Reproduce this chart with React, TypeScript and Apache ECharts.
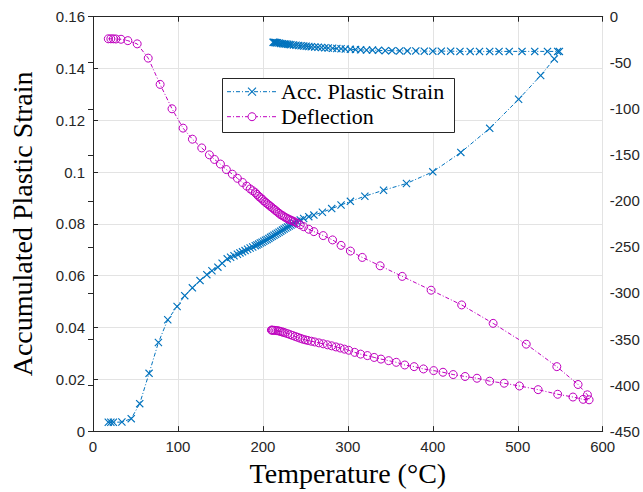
import React, { useEffect, useRef } from "react";
import * as echarts from "echarts";

// Accumulated plastic strain during heating (temperature °C, strain)
const strainHeatT = [
  18, 21, 24, 34, 45, 55, 66, 77, 88, 99, 108, 117, 126, 134, 140, 147, 152, 158,
  162, 166, 170, 173, 176, 179, 182, 185, 188, 191, 193, 195, 197, 199, 201, 203,
  205, 207, 209, 211, 213, 215, 217, 219, 221, 223, 225, 227, 229, 231, 233, 235,
  237, 240, 244, 248, 254, 260, 270, 281, 292, 303, 320, 342, 369, 400, 433, 467,
  501, 527, 543, 549,
];
const strainHeat = [
  0.0034, 0.0034, 0.0034, 0.0035, 0.0048, 0.0106, 0.0223, 0.0342, 0.043, 0.0481,
  0.0523, 0.0553, 0.0581, 0.0604, 0.0619, 0.0633, 0.0648, 0.0665, 0.0671, 0.0677,
  0.0683, 0.0688, 0.0692, 0.0697, 0.0702, 0.0707, 0.0711, 0.0716, 0.0719, 0.0722,
  0.0726, 0.0729, 0.0733, 0.0737, 0.074, 0.0744, 0.0748, 0.0752, 0.0756, 0.076,
  0.0764, 0.0768, 0.0772, 0.0776, 0.078, 0.0784, 0.0788, 0.0792, 0.0796, 0.08,
  0.0804, 0.081, 0.0815, 0.0821, 0.0828, 0.0834, 0.0845, 0.0859, 0.0873, 0.0887,
  0.0907, 0.093, 0.0956, 0.1001, 0.1076, 0.1169, 0.1281, 0.1373, 0.1437, 0.1466,
];

// Accumulated plastic strain during cooling
const strainCoolT = [
  547, 535, 520, 505, 490, 478, 467, 455, 444, 432, 421, 410, 400, 390, 380, 370,
  361, 352, 344, 336, 329, 322, 315, 309, 303, 297, 292, 287, 282, 277, 273, 269,
  265, 261, 257, 254, 251, 248, 245, 242, 239, 236, 233, 231, 229, 227, 225, 223,
  221, 219, 217, 216, 215, 214, 213, 212,
];
const strainCool = [
  0.1466, 0.1466, 0.1466, 0.1466, 0.1466, 0.1466, 0.1466, 0.1466, 0.1466, 0.1466,
  0.1467, 0.1467, 0.1467, 0.1467, 0.1468, 0.1468, 0.1468, 0.1469, 0.1469, 0.147,
  0.1471, 0.1471, 0.1472, 0.1473, 0.1474, 0.1475, 0.1476, 0.1477, 0.1478, 0.1479,
  0.148, 0.1481, 0.1482, 0.1483, 0.1484, 0.1485, 0.1486, 0.1487, 0.1488, 0.1489,
  0.149, 0.1491, 0.1492, 0.1493, 0.1494, 0.1495, 0.1495, 0.1496, 0.1497, 0.1498,
  0.1499, 0.1499, 0.15, 0.15, 0.1501, 0.1501,
];

// Deflection during heating (temperature °C, deflection)
const deflHeatT = [
  18, 21, 24, 27, 33, 41, 52, 65, 79, 93, 106, 117, 128, 137, 143, 150, 157, 164,
  170, 176, 181, 185, 188, 191, 193, 195, 197, 199, 201, 203, 205, 207, 209, 211,
  213, 215, 217, 219, 221, 223, 225, 227, 229, 231, 233, 235, 237, 240, 244, 248,
  254, 260, 271, 282, 292, 303, 317, 338, 364, 398, 434, 471, 510, 546, 571, 582,
  584,
];
const deflHeat = [
  -24, -24, -24, -24.2, -24.5, -26, -29.5, -45, -73.5, -100, -121, -133, -142.5,
  -150, -155, -160, -166, -171, -175.5, -180, -184, -187, -189, -191, -193, -195,
  -196.5, -198, -200, -201.5, -203, -204.5, -206, -207.5, -209, -210.5, -212,
  -213.5, -215, -216, -217.2, -218.3, -219.3, -220.2, -221, -221.8, -222.6, -224,
  -226, -228, -230.8, -233.4, -237.7, -242.4, -248.3, -254.5, -261.4, -270.5, -282,
  -297, -313, -333, -355.6, -380, -399.4, -410.6, -416,
];

// Deflection during cooling
const deflCoolT = [
  577, 565, 547, 524, 502, 484, 467, 452, 438, 424, 412, 401, 389, 378, 367, 357,
  348, 339, 331, 323, 315, 308, 301, 296, 291, 286, 281, 276, 271, 266, 261, 257,
  253, 250, 247, 244, 241, 238, 235, 232, 229, 226, 224, 222, 220, 218, 216, 214,
  212, 211, 210,
];
const deflCool = [
  -415.5, -413, -410, -405, -401, -398, -395.8, -392.6, -390.7, -388.6, -386.1,
  -384.3, -382.5, -380, -378.2, -375.3, -373.5, -371.8, -370, -368, -366.4, -364.5,
  -362.2, -361, -359.8, -358.6, -357.4, -356.3, -355.2, -354.2, -353.2, -352.4,
  -351.6, -350.9, -350.2, -349.2, -348.2, -347.2, -346.2, -345.2, -344.2, -343.3,
  -342.7, -342.1, -341.6, -341.1, -340.8, -340.6, -340.5, -340.4, -340.3,
];

const seriesNames = ["Acc. Plastic Strain", "Deflection"];

const BLUE = "#0072bd";
const MAGENTA = "#bf00bf";
const AXIS = "#262626";
const GRID = "#e3e3e3";
const SERIF = "Liberation Serif";
const SANS = "Liberation Sans";
const DASH_DOT = [4, 2, 1, 2];
const CROSS = "path://M0,1L1,0L5,4L9,0L10,1L6,5L10,9L9,10L5,6L1,10L0,9L4,5Z";
const LEGEND_Z = 100;

const pairs = (xs: number[], ys: number[]) => xs.map((x, i) => [x, ys[i]]);

// Boxed legend drawn with graphic elements: dash-dot sample, marker, label
function legendGraphic() {
  const left = 222.5;
  const top = 78.5;
  const rowY = [91.7, 116.7];
  const lineX0 = 227;
  const lineX1 = 277;
  const mx = 252;
  const colors = [BLUE, MAGENTA];
  const els: any[] = [
    {
      type: "rect",
      z: LEGEND_Z,
      shape: { x: left, y: top, width: 232, height: 54 },
      style: { fill: "#ffffff", stroke: AXIS, lineWidth: 1 },
    },
  ];
  rowY.forEach((y, i) => {
    els.push({
      type: "line",
      z: LEGEND_Z + 1,
      shape: { x1: lineX0, y1: y, x2: lineX1, y2: y },
      style: { stroke: colors[i], lineWidth: 1, lineDash: DASH_DOT },
    });
    if (i === 0) {
      els.push(
        {
          type: "line",
          z: LEGEND_Z + 2,
          shape: { x1: mx - 4, y1: y - 4, x2: mx + 4, y2: y + 4 },
          style: { stroke: BLUE, lineWidth: 1.1 },
        },
        {
          type: "line",
          z: LEGEND_Z + 2,
          shape: { x1: mx - 4, y1: y + 4, x2: mx + 4, y2: y - 4 },
          style: { stroke: BLUE, lineWidth: 1.1 },
        }
      );
    } else {
      els.push({
        type: "circle",
        z: LEGEND_Z + 2,
        shape: { cx: mx, cy: y, r: 4 },
        style: { fill: "#ffffff", stroke: MAGENTA, lineWidth: 1 },
      });
    }
    els.push({
      type: "text",
      z: LEGEND_Z + 2,
      x: 281,
      y,
      style: {
        text: seriesNames[i],
        fill: "#000000",
        font: `22px ${SERIF}`,
        verticalAlign: "middle",
        align: "left",
      },
    });
  });
  return els;
}

export default function App() {
  const ref = useRef<HTMLDivElement>(null);

  useEffect(() => {
    if (!ref.current) return;
    const chart = echarts.init(ref.current, undefined, { renderer: "svg" });
    const tickLabel = { color: AXIS, fontFamily: SANS, fontSize: 15 };
    const tick = { show: true, inside: true, length: 5, lineStyle: { color: AXIS } };
    const line = { show: true, lineStyle: { color: AXIS, width: 1 } };
    chart.setOption({
      animation: false,
      backgroundColor: "#ffffff",
      grid: { left: 80.7, right: 40.3, top: 16.7, bottom: 57.7 },
      graphic: { elements: legendGraphic() },
      xAxis: [
        {
          type: "value",
          min: 0,
          max: 600,
          interval: 100,
          position: "bottom",
          name: "Temperature (°C)",
          nameLocation: "middle",
          nameGap: 26,
          nameTextStyle: { color: "#000000", fontFamily: SERIF, fontSize: 28 },
          axisLine: line,
          axisTick: tick,
          axisLabel: { ...tickLabel, margin: 8 },
          splitLine: { show: true, lineStyle: { color: GRID, width: 1 } },
        },
        {
          type: "value",
          min: 0,
          max: 600,
          interval: 100,
          position: "top",
          axisLine: line,
          axisTick: tick,
          axisLabel: { show: false },
          splitLine: { show: false },
        },
      ],
      yAxis: [
        {
          type: "value",
          min: 0,
          max: 0.16,
          interval: 0.02,
          position: "left",
          name: "Accumulated Plastic Strain",
          nameLocation: "middle",
          nameGap: 57,
          nameTextStyle: { color: "#000000", fontFamily: SERIF, fontSize: 28 },
          axisLine: line,
          axisTick: tick,
          axisLabel: { ...tickLabel, margin: 8 },
          splitLine: { show: true, lineStyle: { color: GRID, width: 1 } },
        },
        {
          type: "value",
          min: -450,
          max: 0,
          interval: 50,
          position: "right",
          axisLine: line,
          axisTick: tick,
          axisLabel: { ...tickLabel, margin: 7 },
          splitLine: { show: false },
        },
      ],
      series: [
        {
          name: seriesNames[0],
          type: "line",
          xAxisIndex: 0,
          yAxisIndex: 0,
          data: [...pairs(strainHeatT, strainHeat), ...pairs(strainCoolT, strainCool)],
          symbol: CROSS,
          symbolSize: 8,
          showAllSymbol: true,
          itemStyle: { color: BLUE },
          lineStyle: { color: BLUE, width: 1, type: DASH_DOT },
          emphasis: { disabled: true },
          z: 2,
        },
        {
          name: seriesNames[1],
          type: "line",
          xAxisIndex: 0,
          yAxisIndex: 1,
          data: [...pairs(deflHeatT, deflHeat), ...pairs(deflCoolT, deflCool)],
          symbol: "circle",
          symbolSize: 8,
          showAllSymbol: true,
          itemStyle: { color: "rgba(0,0,0,0)", borderColor: MAGENTA, borderWidth: 1 },
          lineStyle: { color: MAGENTA, width: 1, type: DASH_DOT },
          emphasis: { disabled: true },
          z: 3,
        },
      ],
    });
    return () => chart.dispose();
  }, []);

  return (
    <div
      ref={ref}
      style={{ position: "absolute", left: 0, top: 0, width: 643, height: 492 }}
    />
  );
}
